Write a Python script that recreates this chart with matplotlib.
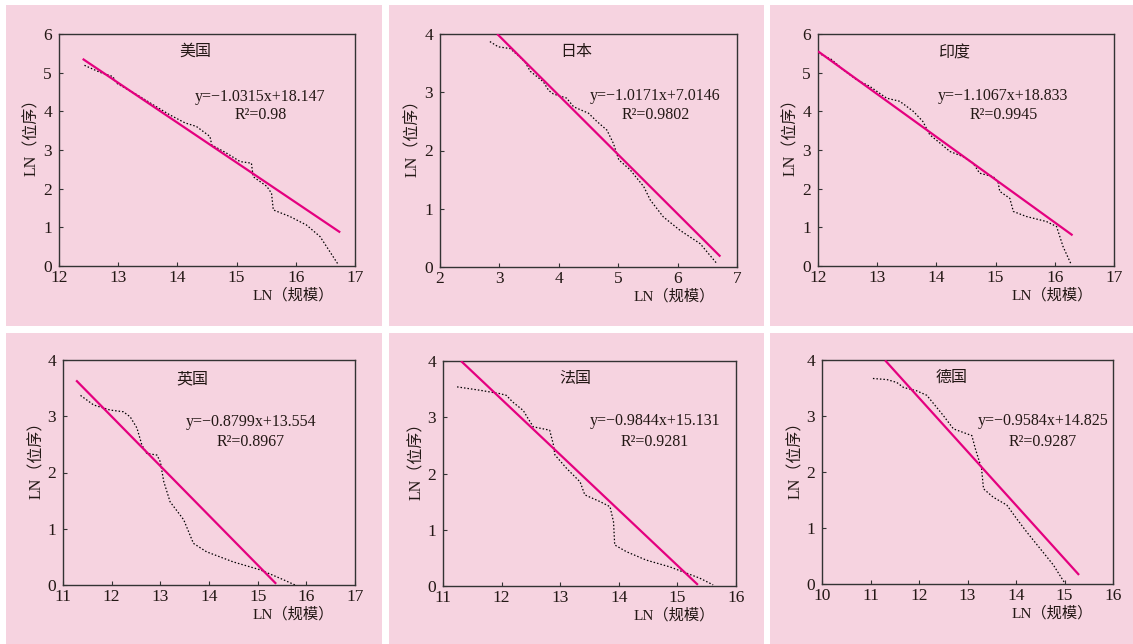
import numpy as np
import matplotlib.pyplot as plt
from matplotlib.patches import Rectangle

W, H = 1133, 644
SERIF = 'Liberation Serif'
MIXED = ['Liberation Serif', 'Noto Sans CJK SC']
PINK = '#F6D3E0'
MAGENTA = '#E4007F'
INK = '#231815'

# ---- data ----
titles = ['美国', '日本', '印度', '英国', '法国', '德国']
slopes = [-1.0315, -1.0171, -1.1067, -0.8799, -0.9844, -0.9584]
intercepts = [18.147, 7.0146, 18.833, 13.554, 15.131, 14.825]
r2_labels = ['0.98', '0.9802', '0.9945', '0.8967', '0.9281', '0.9287']
fit_x_ranges = [(12.4, 16.75), (2.95, 6.72), (12.0, 16.3),
                (11.27, 15.38), (11.3, 15.35), (11.3, 15.3)]

us_x = [12.43, 12.69, 12.91, 12.97, 13.36, 13.59, 13.87, 14.13, 14.32, 14.55, 14.58,
        14.83, 15.06, 15.25, 15.28, 15.51, 15.59, 15.62, 15.90, 16.18, 16.41, 16.72]
us_y = [5.19, 5.01, 4.90, 4.73, 4.39, 4.17, 3.91, 3.70, 3.61, 3.35, 3.13,
        2.92, 2.70, 2.66, 2.31, 2.06, 1.88, 1.45, 1.28, 1.06, 0.76, 0.03]

jp_x = [2.84, 2.98, 3.18, 3.35, 3.43, 3.52, 3.63, 3.74, 3.83, 3.91, 4.13, 4.25,
        4.50, 4.64, 4.81, 4.92, 5.01, 5.20, 5.43, 5.54, 5.76, 6.04, 6.38, 6.66]
jp_y = [3.87, 3.78, 3.75, 3.60, 3.52, 3.36, 3.27, 3.18, 3.03, 2.97, 2.90, 2.75,
        2.64, 2.50, 2.35, 2.12, 1.84, 1.67, 1.38, 1.15, 0.86, 0.63, 0.40, 0.06]

in_x = [12.0, 12.23, 12.42, 12.65, 12.87, 13.16, 13.38, 13.61, 13.77, 13.89, 14.06,
        14.23, 14.45, 14.62, 14.73, 14.96, 15.04, 15.07, 15.24, 15.30, 15.52, 15.86,
        16.03, 16.14, 16.28]
in_y = [5.51, 5.34, 5.08, 4.82, 4.65, 4.34, 4.26, 4.00, 3.74, 3.39, 3.18,
        2.96, 2.83, 2.66, 2.40, 2.31, 2.18, 1.93, 1.75, 1.41, 1.28, 1.15,
        1.02, 0.50, 0.03]

uk_x = [11.36, 11.63, 11.97, 12.24, 12.38, 12.52, 12.62, 12.72, 12.93, 13.00,
        13.07, 13.20, 13.48, 13.58, 13.68, 13.95, 14.50, 15.05, 15.46, 15.77]
uk_y = [3.37, 3.20, 3.11, 3.08, 2.99, 2.79, 2.49, 2.34, 2.31, 2.19,
        1.84, 1.48, 1.16, 0.95, 0.74, 0.59, 0.41, 0.27, 0.12, 0.0]

fr_x = [11.24, 11.63, 11.97, 12.08, 12.19, 12.37, 12.45, 12.54, 12.82, 12.88, 12.91,
        13.11, 13.34, 13.42, 13.68, 13.85, 13.91, 13.93, 14.13, 14.47, 14.87, 15.38, 15.61]
fr_y = [3.54, 3.48, 3.42, 3.39, 3.27, 3.12, 2.98, 2.83, 2.77, 2.53, 2.33,
        2.09, 1.85, 1.62, 1.50, 1.41, 1.14, 0.73, 0.61, 0.46, 0.34, 0.14, 0.02]

de_x = [11.05, 11.34, 11.54, 11.68, 11.95, 12.16, 12.33, 12.50, 12.71, 13.09,
        13.16, 13.29, 13.33, 13.53, 13.81, 14.01, 14.22, 14.49, 14.77, 15.01]
de_y = [3.67, 3.65, 3.60, 3.51, 3.45, 3.37, 3.19, 3.01, 2.77, 2.65,
        2.42, 2.06, 1.70, 1.55, 1.41, 1.17, 0.93, 0.64, 0.34, 0.01]

series_x = [us_x, jp_x, in_x, uk_x, fr_x, de_x]
series_y = [us_y, jp_y, in_y, uk_y, fr_y, de_y]

xlims = [(12, 17), (2, 7), (12, 17), (11, 17), (11, 16), (10, 16)]
ylims = [(0, 6), (0, 4), (0, 6), (0, 4), (0, 4), (0, 4)]

# ---- layout (pixels) ----
panel_cols = [(6, 382), (389, 764), (770, 1133)]
panel_rows = [(5, 326), (333, 644)]
axes_px = [(59, 34, 355, 266), (440, 34, 737, 267), (818, 34, 1114, 266),
           (63, 360, 355, 585), (443, 361, 736, 586), (822, 360, 1113, 584)]
eq_pos = [(0.68, 0.73, 0.652), (0.725, 0.732, 0.653), (0.626, 0.731, 0.652),
          (0.643, 0.726, 0.637), (0.723, 0.732, 0.64), (0.76, 0.726, 0.634)]
title_pos = [(0.462, 0.925), (0.458, 0.925), (0.46, 0.92),
             (0.444, 0.918), (0.453, 0.92), (0.446, 0.923)]

fig = plt.figure(figsize=(W / 100, H / 100), dpi=100)
fig.patch.set_facecolor('white')

for (r0, r1) in panel_rows:
    for (c0, c1) in panel_cols:
        fig.add_artist(Rectangle((c0 / W, 1 - r1 / H), (c1 - c0) / W, (r1 - r0) / H,
                                 transform=fig.transFigure, facecolor=PINK,
                                 edgecolor='none', zorder=0))

for i in range(6):
    l, t, r, b = axes_px[i]
    ax = fig.add_axes([l / W, 1 - b / H, (r - l) / W, (b - t) / H])
    ax.set_facecolor('none')
    ax.set_zorder(2)

    ax.plot(series_x[i], series_y[i], color='black', lw=0.9, ls=(0, (1.2, 1.6)), zorder=2)
    fx = np.array(fit_x_ranges[i])
    fy = slopes[i] * fx + intercepts[i]
    if fy[0] > ylims[i][1]:
        fx[0] = (ylims[i][1] - intercepts[i]) / slopes[i]
        fy[0] = ylims[i][1]
    ax.plot(fx, fy, color=MAGENTA, lw=1.6, zorder=3, solid_capstyle='butt')

    ax.set_xlim(*xlims[i])
    ax.set_ylim(*ylims[i])
    ax.set_xticks(np.arange(xlims[i][0], xlims[i][1] + 1, 1))
    ax.set_yticks(np.arange(ylims[i][0], ylims[i][1] + 1, 1))
    ax.tick_params(direction='in', length=3, width=0.8, color='#333333')
    ax.tick_params(axis='x', pad=3)
    ax.tick_params(axis='y', pad=5)
    for lab in ax.get_xticklabels() + ax.get_yticklabels():
        lab.set_family(SERIF)
        lab.set_fontsize(12.5)
        lab.set_color(INK)
    for sp in ax.spines.values():
        sp.set_linewidth(1.0)
        sp.set_color('#333333')

    ex, ey, ry = eq_pos[i]
    sign = '+' if intercepts[i] >= 0 else '−'
    eq = f"y=−{abs(slopes[i])}x{sign}{abs(intercepts[i])}"
    ax.text(ex, ey, eq, transform=ax.transAxes, ha='center', va='center',
            family=SERIF, fontsize=11.5, color=INK)
    ax.text(ex, ry, f"R²={r2_labels[i]}", transform=ax.transAxes, ha='center',
            va='center', family=SERIF, fontsize=11.5, color=INK)

    tx, ty = title_pos[i]
    ax.text(tx, ty, titles[i], transform=ax.transAxes, ha='center', va='center',
            family='Noto Sans CJK SC', fontsize=11.5, color=INK)

    ah = b - t
    ax.text(0.79, -29.0 / ah, 'LN（规模）', transform=ax.transAxes, ha='center',
            va='center', family=MIXED, fontsize=11, color=INK)
    ax.text(-0.09, 0.57, 'LN（位序）', transform=ax.transAxes, ha='center',
            va='center', rotation=90, family=MIXED, fontsize=11.5, color=INK)

fig.savefig('out.png', dpi=100, facecolor='white')
